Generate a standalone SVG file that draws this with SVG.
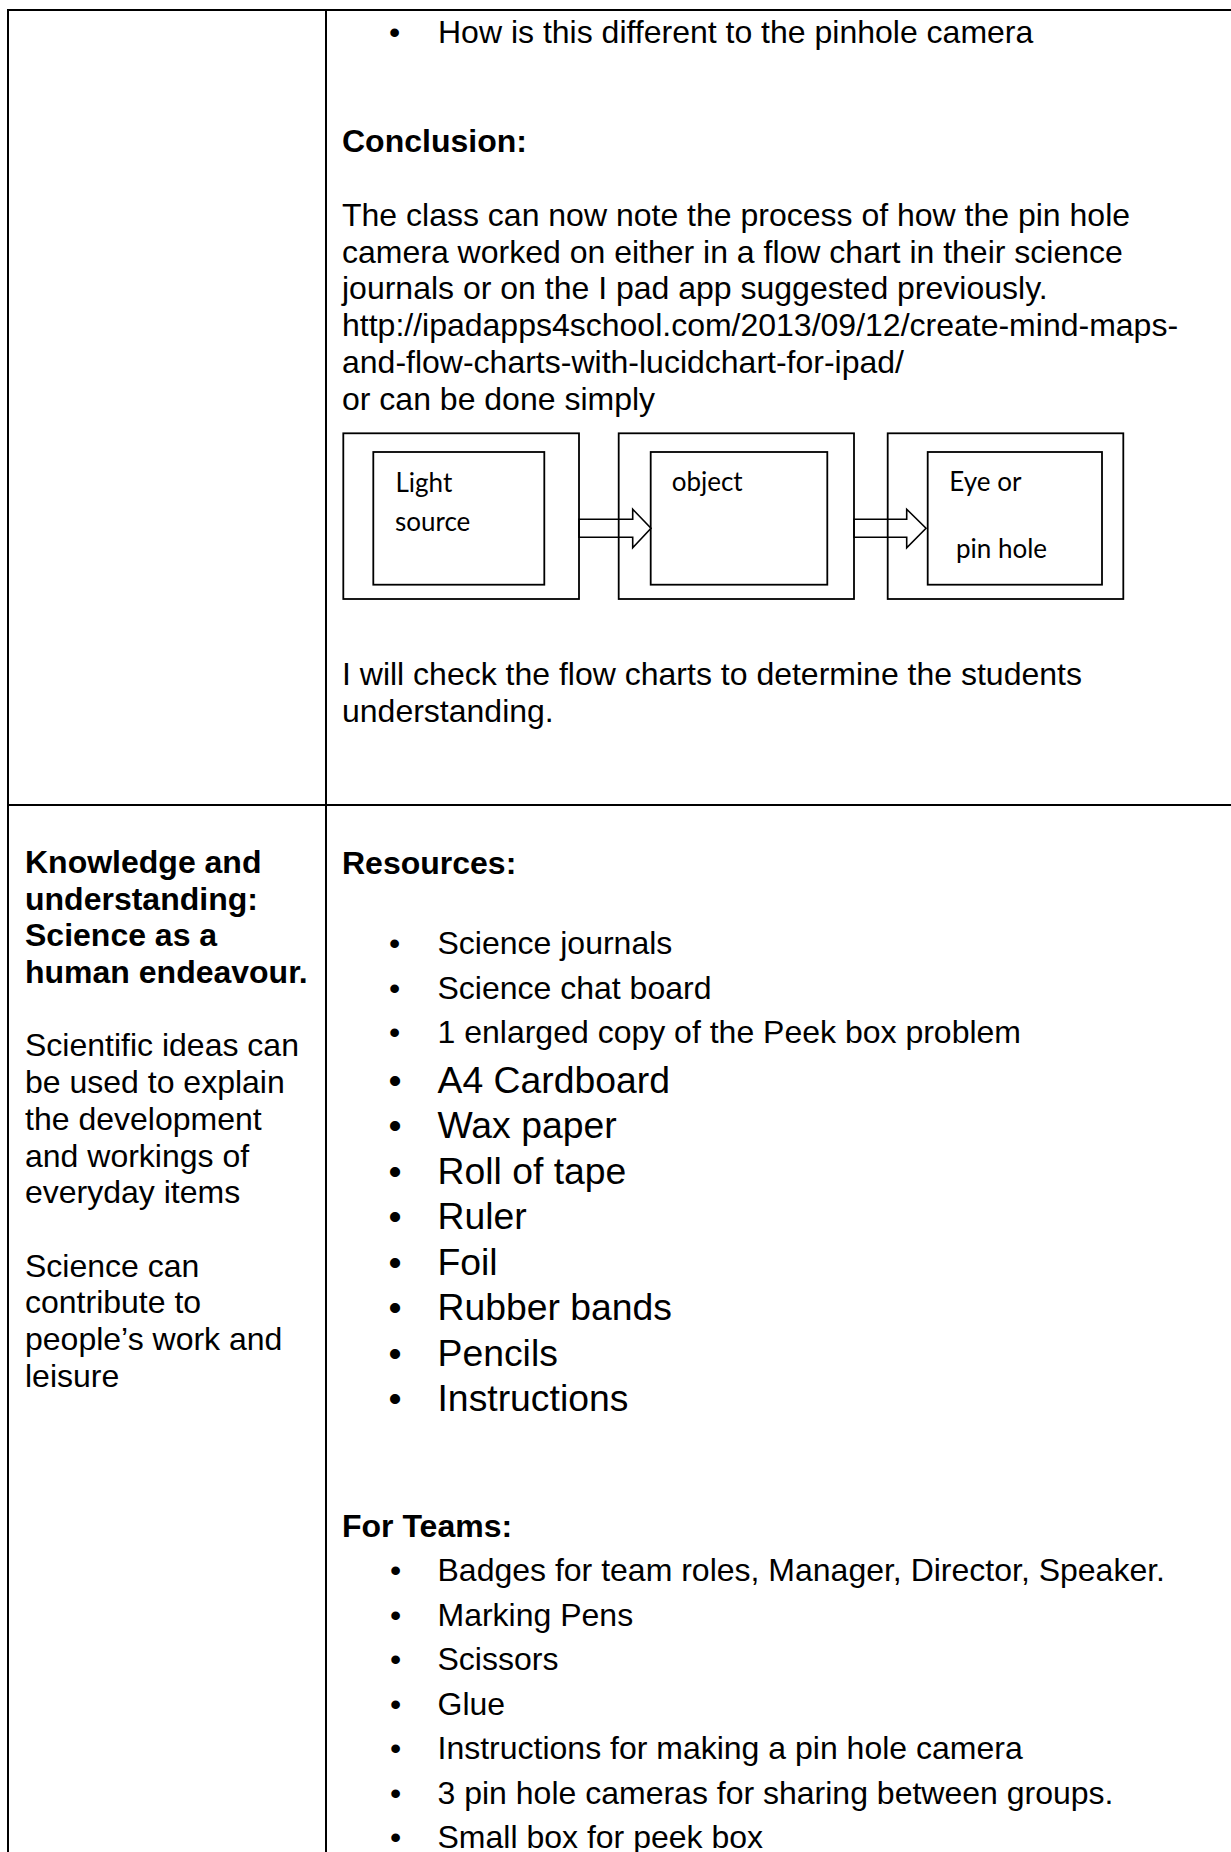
<svg xmlns="http://www.w3.org/2000/svg" width="1231" height="1852" viewBox="0 0 1231 1852">
<style>
.t{font-family:"Liberation Sans",Arial,sans-serif;font-size:32px;fill:#000}
.b{font-weight:bold}
.big{font-size:37.33px}
.fc{font-family:Lato,"Liberation Sans",sans-serif;font-size:26px;fill:#000}
.grid{stroke:#000;stroke-width:2;fill:none}
.box{fill:none;stroke:#000;stroke-width:1.8}
.arrow{fill:#fff;stroke:#000;stroke-width:1.6;stroke-linejoin:miter}
</style>
<rect width="1231" height="1852" fill="#fff"/>
<g id="table">
<line class="grid" x1="7" y1="10" x2="1231" y2="10"/>
<line class="grid" x1="8" y1="9" x2="8" y2="1852"/>
<line class="grid" x1="326" y1="9" x2="326" y2="1852"/>
<line class="grid" x1="7" y1="805" x2="1231" y2="805"/>
</g>
<g id="top-text">
<text class="t" x="389" y="42.5">•</text>
<text class="t" x="438" y="42.5">How is this different to the pinhole camera</text>
<text class="t b" x="342" y="152">Conclusion:</text>
<text class="t" x="342" y="225.5">The class can now note the process of how the pin hole</text>
<text class="t" x="342" y="262.5">camera worked on either in a flow chart in their science</text>
<text class="t" x="342" y="299.3">journals or on the I pad app suggested previously.</text>
<text class="t" x="342" y="336">http://ipadapps4school.com/2013/09/12/create-mind-maps-</text>
<text class="t" x="342" y="372.7">and-flow-charts-with-lucidchart-for-ipad/</text>
<text class="t" x="342" y="410">or can be done simply</text>
<text class="t" x="342" y="685">I will check the flow charts to determine the students</text>
<text class="t" x="342" y="721.7">understanding.</text>
</g>
<g id="connectors">
<polygon class="arrow" points="579,519.3 632.7,519.3 632.7,509.3 651,528.3 632.7,547.7 632.7,537.3 579,537.3"/>
<polygon class="arrow" points="854,519.3 906.7,519.3 906.7,509.3 926,528.3 906.7,547.7 906.7,537.3 854,537.3"/>
</g>
<g id="node-light-source">
<rect class="box" x="343.3" y="433.3" width="235.7" height="165.7"/>
<rect class="box" x="373.3" y="452" width="171" height="132.7"/>
<text class="fc" x="395.5" y="491.7">Light</text>
<text class="fc" x="395" y="531">source</text>
</g>
<g id="node-object">
<rect class="box" x="618.7" y="433.3" width="235.3" height="165.7"/>
<rect class="box" x="650.7" y="452" width="176.6" height="132.7"/>
<text class="fc" x="671.7" y="491">object</text>
</g>
<g id="node-eye">
<rect class="box" x="887.7" y="433.3" width="235.6" height="165.7"/>
<rect class="box" x="927.7" y="452" width="174.3" height="132.7"/>
<text class="fc" x="949.3" y="491">Eye or</text>
<text class="fc" x="956" y="557.7">pin hole</text>
</g>
<g id="left-column">
<text class="t b" x="25" y="873">Knowledge and</text>
<text class="t b" x="25" y="909.7">understanding:</text>
<text class="t b" x="25" y="946.4">Science as a</text>
<text class="t b" x="25" y="983">human endeavour.</text>
<text class="t" x="25" y="1056.4">Scientific ideas can</text>
<text class="t" x="25" y="1093">be used to explain</text>
<text class="t" x="25" y="1129.8">the development</text>
<text class="t" x="25" y="1166.5">and workings of</text>
<text class="t" x="25" y="1203.2">everyday items</text>
<text class="t" x="25" y="1276.6">Science can</text>
<text class="t" x="25" y="1313.3">contribute to</text>
<text class="t" x="25" y="1350">people’s work and</text>
<text class="t" x="25" y="1386.7">leisure</text>
</g>
<g id="resources">
<text class="t b" x="342" y="873.5">Resources:</text>
<text class="t" x="389" y="954">•</text><text class="t" x="437.5" y="954">Science journals</text>
<text class="t" x="389" y="998.5">•</text><text class="t" x="437.5" y="998.5">Science chat board</text>
<text class="t" x="389" y="1043">•</text><text class="t" x="437.5" y="1043">1 enlarged copy of the Peek box problem</text>
<text class="t big" x="388.5" y="1092.5">•</text><text class="t big" x="437.5" y="1092.5">A4 Cardboard</text>
<text class="t big" x="388.5" y="1138">•</text><text class="t big" x="437.5" y="1138">Wax paper</text>
<text class="t big" x="388.5" y="1183.5">•</text><text class="t big" x="437.5" y="1183.5">Roll of tape</text>
<text class="t big" x="388.5" y="1229">•</text><text class="t big" x="437.5" y="1229">Ruler</text>
<text class="t big" x="388.5" y="1274.5">•</text><text class="t big" x="437.5" y="1274.5">Foil</text>
<text class="t big" x="388.5" y="1320">•</text><text class="t big" x="437.5" y="1320">Rubber bands</text>
<text class="t big" x="388.5" y="1365.5">•</text><text class="t big" x="437.5" y="1365.5">Pencils</text>
<text class="t big" x="388.5" y="1411">•</text><text class="t big" x="437.5" y="1411">Instructions</text>
</g>
<g id="teams">
<text class="t b" x="342" y="1537">For Teams:</text>
<text class="t" x="390" y="1581">•</text><text class="t" x="437.5" y="1581">Badges for team roles, Manager, Director, Speaker.</text>
<text class="t" x="390" y="1625.5">•</text><text class="t" x="437.5" y="1625.5">Marking Pens</text>
<text class="t" x="390" y="1670">•</text><text class="t" x="437.5" y="1670">Scissors</text>
<text class="t" x="390" y="1714.5">•</text><text class="t" x="437.5" y="1714.5">Glue</text>
<text class="t" x="390" y="1759">•</text><text class="t" x="437.5" y="1759">Instructions for making a pin hole camera</text>
<text class="t" x="390" y="1803.5">•</text><text class="t" x="437.5" y="1803.5">3 pin hole cameras for sharing between groups.</text>
<text class="t" x="390" y="1848">•</text><text class="t" x="437.5" y="1848">Small box for peek box</text>
</g>
</svg>
